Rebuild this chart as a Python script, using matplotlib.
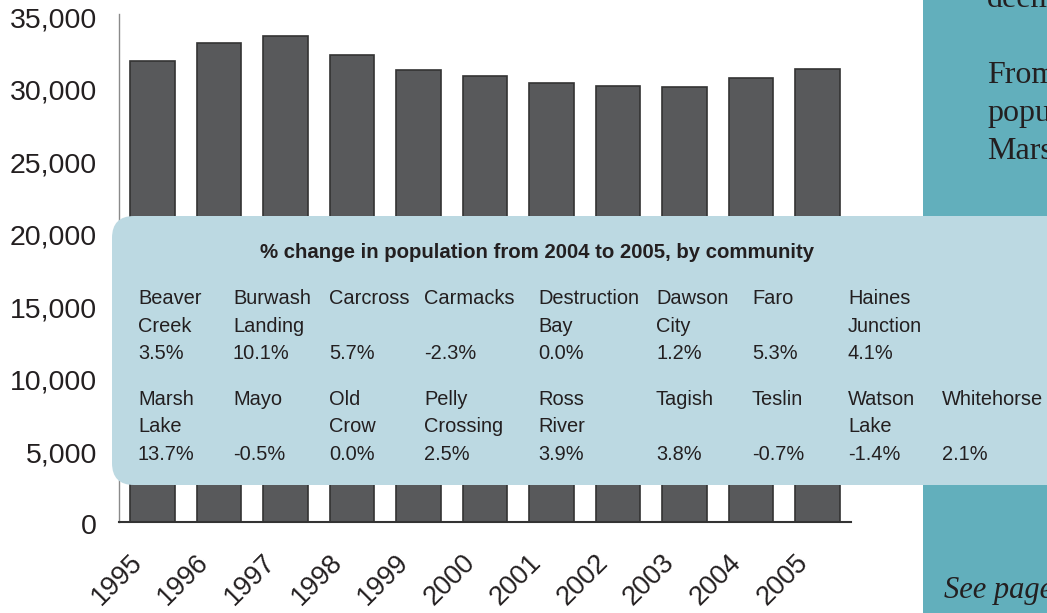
import matplotlib.pyplot as plt
from matplotlib.patches import FancyBboxPatch, Rectangle
from matplotlib.transforms import ScaledTranslation, IdentityTransform

years = ["1995", "1996", "1997", "1998", "1999", "2000",
         "2001", "2002", "2003", "2004", "2005"]
population = [31760, 33020, 33500, 32190, 31140, 30750,
              30260, 30060, 29950, 30610, 31230]

row1_names = ["Beaver\nCreek", "Burwash\nLanding", "Carcross", "Carmacks",
              "Destruction\nBay", "Dawson\nCity", "Faro", "Haines\nJunction"]
row1_pct = ["3.5%", "10.1%", "5.7%", "-2.3%", "0.0%", "1.2%", "5.3%", "4.1%"]
row2_names = ["Marsh\nLake", "Mayo", "Old\nCrow", "Pelly\nCrossing",
              "Ross\nRiver", "Tagish", "Teslin", "Watson\nLake", "Whitehorse"]
row2_pct = ["13.7%", "-0.5%", "0.0%", "2.5%", "3.9%", "3.8%", "-0.7%",
            "-1.4%", "2.1%"]

box_title = "% change in population from 2004 to 2005, by community"
side_lines = ["deem", "", "From", "popu", "Mars"]
side_note = "See page"

W, H = 1047, 613
TXT = "#231f20"
plt.rcParams["font.family"] = ["Liberation Sans", "DejaVu Sans"]

fig = plt.figure(figsize=(W / 100, H / 100), dpi=100)
fig.patch.set_facecolor("white")


def fx(x):
    return x / W


def fy(y):
    return 1 - y / H


# main bar chart
ax = fig.add_axes([fx(119), fy(521.5), (851 - 119) / W, 507.5 / H])
xpos = list(range(len(years)))
ax.bar(xpos, population, width=0.67, color="#58595b",
       edgecolor="#333333", linewidth=1.2, zorder=2)
ax.set_xlim(-0.5, 10.5)
ax.set_ylim(0, 35000)
ax.set_yticks(range(0, 35001, 5000))
ax.set_yticklabels([f"{v:,}" for v in range(0, 35001, 5000)],
                   fontsize=20.5, color=TXT)
ax.set_xticks(xpos)
ax.set_xticklabels(years, rotation=45, ha="right", va="top",
                   rotation_mode="anchor", fontsize=19.5, color=TXT)
ax.tick_params(axis="y", length=0, pad=16)
ax.tick_params(axis="x", length=0, pad=20)
for lab in ax.get_yticklabels():
    lab.set_transform(lab.get_transform() +
                      ScaledTranslation(0, -0.03, fig.dpi_scale_trans))
for lab in ax.get_xticklabels():
    lab.set_transform(lab.get_transform() +
                      ScaledTranslation(-0.23, 0, fig.dpi_scale_trans))
for s in ["top", "right"]:
    ax.spines[s].set_visible(False)
ax.spines["left"].set_color("#8a8a8a")
ax.spines["left"].set_linewidth(1.0)
ax.spines["bottom"].set_color("#333333")
ax.spines["bottom"].set_linewidth(1.5)

# teal side panel (text is cropped at the right edge, as in the source)
fig.patches.append(Rectangle((fx(923), 0), 1, 1, transform=fig.transFigure,
                             facecolor="#62afbc", edgecolor="none", zorder=0.5))
for i, line in enumerate(side_lines):
    fig.text(fx(987), fy(7 + 38 * i), line, fontsize=23, color=TXT,
             family="Liberation Serif", va="baseline", zorder=4)
fig.text(fx(944), fy(598), side_note, fontsize=22, color=TXT,
         family="Liberation Serif", style="italic", va="baseline", zorder=4)

# overlay box with community table
box = FancyBboxPatch((112, H - 485), W - 112 + 60, 485 - 216,
                     boxstyle="round,pad=0,rounding_size=22",
                     transform=IdentityTransform(), facecolor="#bcd9e2",
                     edgecolor="none", zorder=2)
fig.patches.append(box)
fig.text(fx(537), fy(258), box_title, fontsize=14.7, fontweight="bold",
         color=TXT, ha="center", va="baseline", zorder=4)

col_x = [138, 233, 329, 424, 538, 656, 752, 848, 942]
for names, pcts, base in [(row1_names, row1_pct, 304),
                          (row2_names, row2_pct, 405)]:
    for j, (nm, pc) in enumerate(zip(names, pcts)):
        for k, part in enumerate(nm.split("\n")):
            fig.text(fx(col_x[j]), fy(base + 27.5 * k), part, fontsize=14.4,
                     color=TXT, va="baseline", zorder=4)
        fig.text(fx(col_x[j]), fy(base + 55), pc, fontsize=14.4,
                 color=TXT, va="baseline", zorder=4)

fig.savefig("out.png", dpi=100)
